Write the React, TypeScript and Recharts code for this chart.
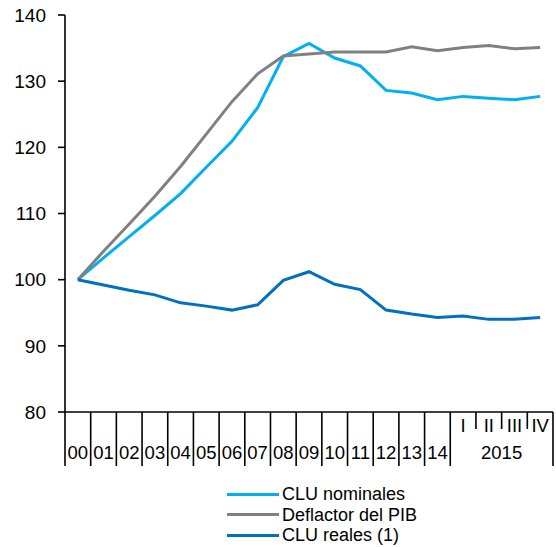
import React from "react";
import { ComposedChart, Line, XAxis, YAxis, Legend } from "recharts";

const years = ["00", "01", "02", "03", "04", "05", "06", "07", "08", "09", "10", "11", "12", "13", "14"];
const quarters = ["I", "II", "III", "IV"];
const quarterYear = "2015";
const categories = [...years, ...quarters];

const seriesNames = ["CLU nominales", "Deflactor del PIB", "CLU reales (1)"];
const cluNominales = [100, 103.3, 106.5, 109.7, 113, 117, 120.9, 126, 133.7, 135.7, 133.5, 132.3, 128.6, 128.2, 127.2, 127.7, 127.4, 127.2, 127.7];
const deflactorPib = [100, 104.3, 108.4, 112.6, 117.1, 122, 126.9, 131.1, 133.8, 134.1, 134.4, 134.4, 134.4, 135.2, 134.6, 135.1, 135.4, 134.9, 135.1];
const cluReales = [100, 99.2, 98.4, 97.7, 96.5, 96.0, 95.4, 96.2, 99.9, 101.2, 99.3, 98.5, 95.4, 94.8, 94.3, 94.5, 94.0, 94.0, 94.3];
const yTicks = [80, 90, 100, 110, 120, 130, 140];

const data = categories.map((cat, i) => ({
  cat,
  nominales: cluNominales[i],
  deflactor: deflactorPib[i],
  reales: cluReales[i],
}));

const FONT = "'Liberation Sans', Arial, sans-serif";
const W = 556;
const H = 547;
const MARGIN = { top: 15, right: 3, left: 0, bottom: 0 };
const Y_W = 65;
const BAND = (W - MARGIN.left - MARGIN.right - Y_W) / categories.length;

const XTick = (props: any) => {
  const { x, y, index, payload } = props;
  const half = BAND / 2;
  const isQ = index >= years.length;
  const left = x - half;
  const longSep = !isQ || index === years.length;
  return (
    <g>
      <line x1={left} x2={left} y1={y} y2={y + (longSep ? 54 : 17)} stroke="#000" strokeWidth={1.6} />
      {index === categories.length - 1 && (
        <line x1={x + half} x2={x + half} y1={y} y2={y + 54} stroke="#000" strokeWidth={1.6} />
      )}
      <text
        x={x}
        y={isQ ? y + 13.5 : y + 40}
        textAnchor="middle"
        dominantBaseline="central"
        fontSize={18.5}
        fontFamily={FONT}
        fill="#000"
      >
        {payload.value}
      </text>
      {index === years.length && (
        <text
          x={left + 2 * BAND}
          y={y + 40}
          textAnchor="middle"
          dominantBaseline="central"
          fontSize={18.5}
          fontFamily={FONT}
          fill="#000"
        >
          {quarterYear}
        </text>
      )}
    </g>
  );
};

const LegendBox = ({ payload }: any) => {
  const items = [...(payload || [])].sort(
    (a: any, b: any) => seriesNames.indexOf(a.value) - seriesNames.indexOf(b.value)
  );
  return (
    <div style={{ height: 63, paddingLeft: 227, fontFamily: FONT, boxSizing: "border-box" }}>
      {items.map((p: any) => (
        <div key={p.value} style={{ display: "flex", alignItems: "center", height: 20.5 }}>
          <div style={{ width: 52, height: 3, background: p.color, marginRight: 3 }} />
          <span style={{ fontSize: 18, lineHeight: "20.5px", color: "#000" }}>{p.value}</span>
        </div>
      ))}
    </div>
  );
};

export default function App() {
  return (
    <div style={{ position: "absolute", left: 0, top: 0, width: W, height: H, background: "#fff" }}>
      <ComposedChart width={W} height={H} data={data} margin={MARGIN}>
        <XAxis
          dataKey="cat"
          scale="band"
          interval={0}
          tickLine={false}
          tickSize={0}
          tickMargin={0}
          height={72}
          axisLine={{ stroke: "#000", strokeWidth: 1.6 }}
          tick={<XTick />}
        />
        <YAxis
          domain={[80, 140]}
          ticks={yTicks}
          width={Y_W}
          tickSize={7}
          tickMargin={12}
          axisLine={{ stroke: "#000", strokeWidth: 1.6 }}
          tickLine={{ stroke: "#000", strokeWidth: 1.6 }}
          tick={{ fontSize: 19, fill: "#000", fontFamily: FONT }}
        />
        <Legend
          verticalAlign="bottom"
          align="left"
          wrapperStyle={{ left: 0, width: W }}
          content={<LegendBox />}
        />
        <Line dataKey="nominales" name={seriesNames[0]} stroke="#00B0F0" strokeWidth={3} dot={false} isAnimationActive={false} legendType="line" />
        <Line dataKey="deflactor" name={seriesNames[1]} stroke="#808080" strokeWidth={3} dot={false} isAnimationActive={false} legendType="line" />
        <Line dataKey="reales" name={seriesNames[2]} stroke="#0070C0" strokeWidth={3} dot={false} isAnimationActive={false} legendType="line" />
      </ComposedChart>
    </div>
  );
}
